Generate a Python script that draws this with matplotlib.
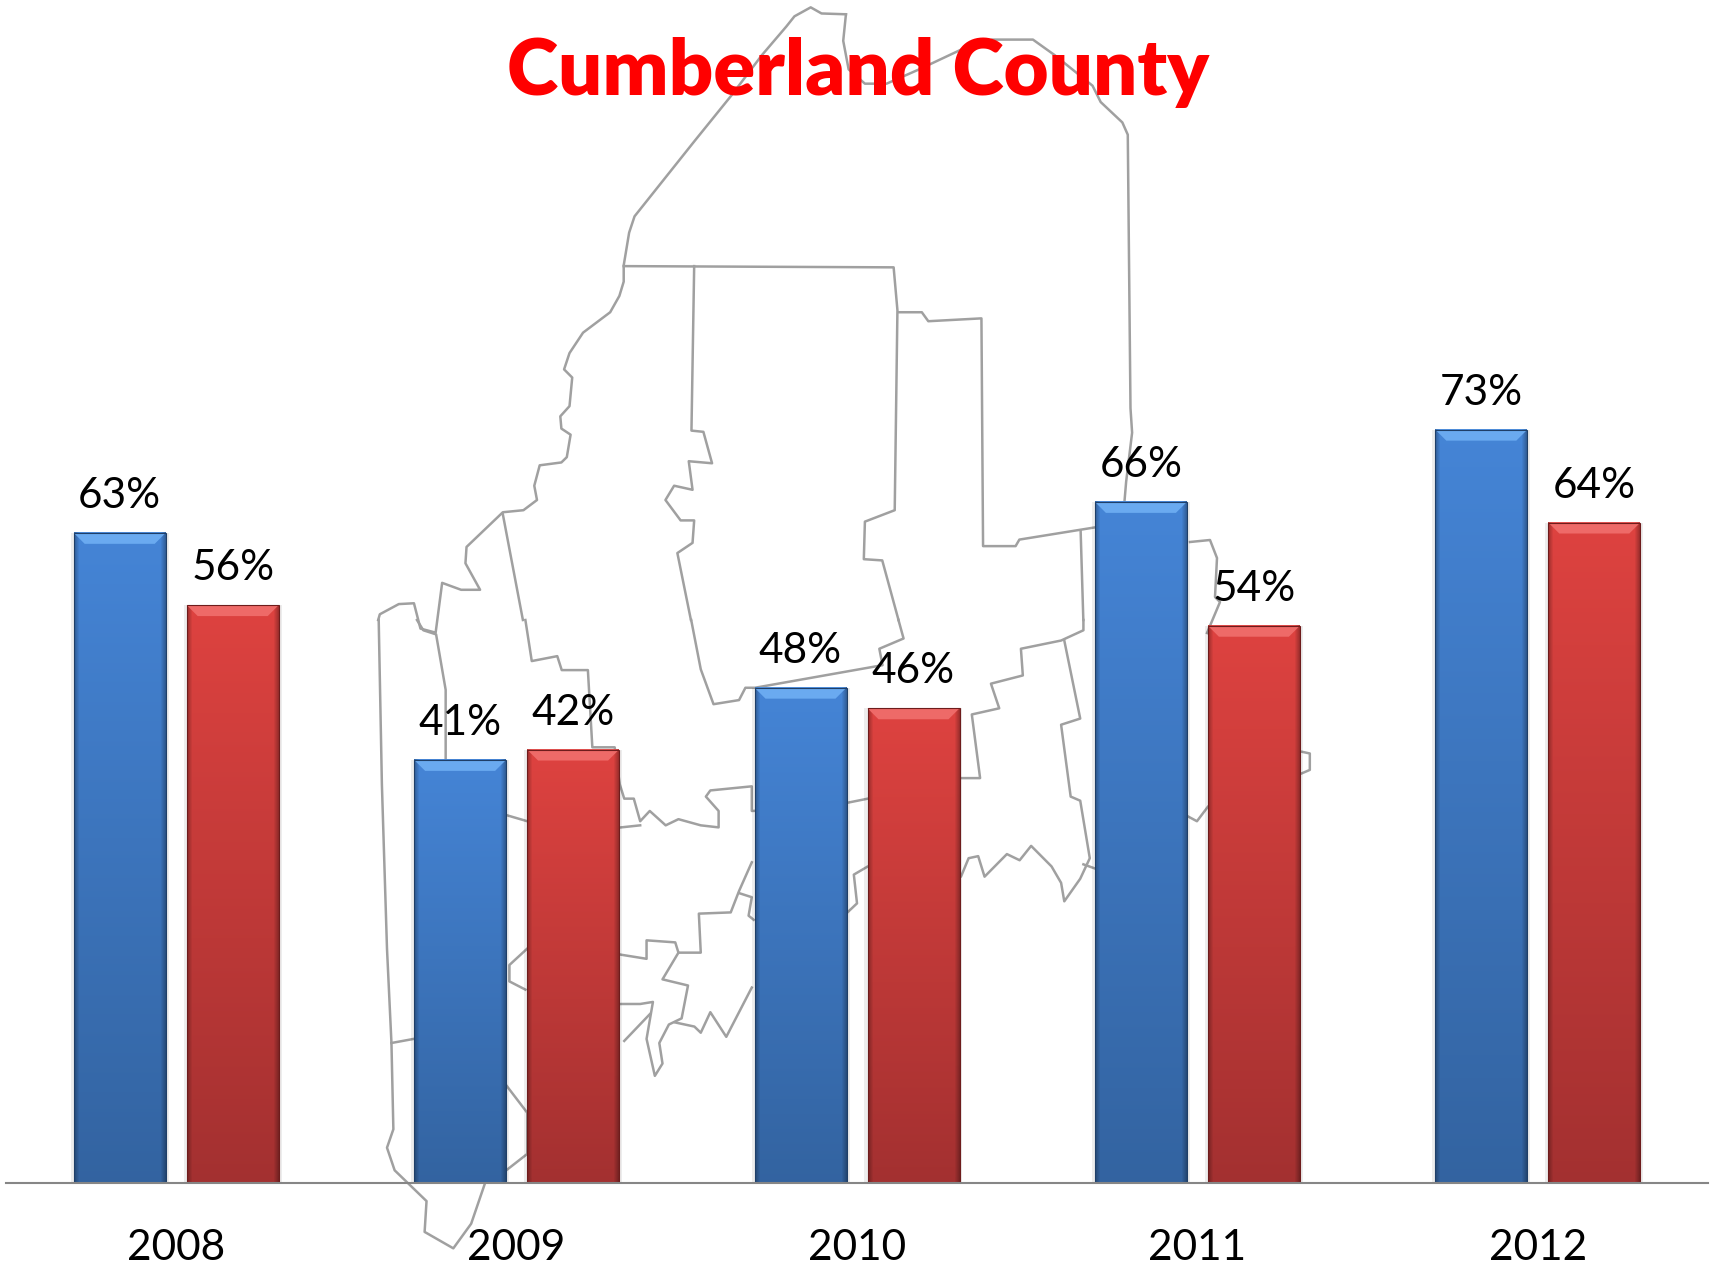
import numpy as np
import matplotlib
matplotlib.use('Agg')
import matplotlib.pyplot as plt
from matplotlib.patches import Polygon

plt.rcParams['font.family'] = ['Lato', 'DejaVu Sans']

years = ['2008', '2009', '2010', '2011', '2012']
blue_values = [63, 41, 48, 66, 73]
red_values = [56, 42, 46, 54, 64]

# map outline, (x, y) in zoomed crop coordinates
map_upper = [
    [(915, 35), (870, 33), (850, 18), (820, 40), (805, 65), (760, 135), (703, 235), (636, 345), (579, 440),
     (525, 530), (515, 570), (505, 650), (505, 690), (497, 725), (480, 765), (430, 815), (405, 865), (395, 905),
     (410, 925), (405, 995), (388, 1020), (390, 1050), (407, 1065), (400, 1120), (390, 1133), (350, 1140),
     (340, 1190), (345, 1225), (320, 1250), (282, 1255), (215, 1340), (213, 1380), (240, 1445), (205, 1445),
     (170, 1428), (158, 1550), (130, 1540), (118, 1478), (90, 1480), (55, 1505), (52, 1519)],
    [(915, 35), (910, 100), (920, 170), (950, 205), (990, 205), (1050, 170), (1130, 120), (1185, 97), (1260, 97),
     (1300, 135), (1370, 210), (1385, 250), (1425, 300), (1435, 330), (1437, 600), (1440, 1000), (1443, 1060),
     (1432, 1180), (1425, 1290)],
    [(505, 652), (1003, 655), (1010, 760), (1005, 1250), (950, 1278), (948, 1370), (982, 1373), (1012, 1519)],
    [(635, 652), (630, 1055), (652, 1058), (668, 1135), (625, 1130), (632, 1200), (598, 1190), (582, 1225),
     (610, 1275), (635, 1275), (632, 1330), (604, 1355), (629, 1519)],
    [(1012, 765), (1055, 765), (1067, 787), (1165, 780), (1168, 1338), (1228, 1338), (1235, 1322), (1375, 1292),
     (1425, 1285)],
    [(1348, 1300), (1353, 1519)],
    [(282, 1260), (319, 1519)],
]
map_lower = [
    [(45, 0), (50, 400), (58, 800), (65, 1030), (68, 1240), (58, 1285), (70, 1340), (120, 1415), (117, 1490),
     (162, 1530), (190, 1470), (212, 1370), (245, 1340), (278, 1300), (278, 1200), (245, 1133)],
    [(65, 1030), (100, 1020), (130, 1015)],
    [(105, 0), (115, 25), (135, 35), (150, 170), (150, 340), (170, 440), (245, 475), (278, 490), (330, 500)],
    [(275, 0), (285, 100), (325, 88), (332, 122), (373, 122), (380, 310), (415, 310), (423, 400), (430, 435),
     (445, 435), (455, 490), (470, 465), (495, 500), (515, 485), (550, 500), (578, 505), (578, 465), (558, 430),
     (565, 415), (630, 405), (630, 465), (700, 460), (780, 445), (812, 435), (900, 400), (958, 385), (988, 385),
     (975, 230), (1018, 215), (1005, 155), (1055, 135), (1052, 70), (1115, 50), (1150, 25), (1150, 0)],
    [(425, 505), (455, 500)],
    [(1120, 50), (1145, 240), (1115, 255), (1130, 430), (1145, 440), (1160, 580), (1145, 630), (1120, 685),
     (1115, 640), (1100, 600), (1068, 550), (1050, 585), (1030, 570), (995, 625), (985, 575), (970, 580),
     (958, 625), (890, 610), (812, 600), (790, 620), (795, 690), (780, 712)],
    [(1150, 595), (1168, 605)],
    [(630, 590), (610, 660), (597, 712), (547, 715), (550, 810), (515, 810), (510, 785), (465, 780), (465, 825),
     (425, 815), (380, 800)],
    [(610, 665), (630, 675), (625, 720), (633, 730)],
    [(515, 810), (490, 875), (530, 890), (520, 970), (500, 985), (485, 1030), (490, 1080), (478, 1110),
     (465, 1020), (475, 930), (455, 935), (425, 935), (390, 940)],
    [(470, 960), (430, 1025)],
    [(510, 980), (540, 990), (550, 1005), (565, 955), (590, 1015), (630, 895)],
    [(278, 800), (250, 840), (250, 880), (275, 900)],
    [(1490, 375), (1505, 365), (1505, 325), (1490, 320)],
    [(1310, 475), (1328, 490), (1345, 455)],
    [(535, 0), (550, 120), (570, 205), (610, 195), (620, 165), (635, 165), (835, 110), (830, 70), (868, 45),
     (860, 0)],
]
# this last one was read straight in figure pixels
map_right = [(1190, 542), (1210, 540), (1217, 558), (1215, 597), (1220, 602), (1207, 633)]

W, H = 1713, 1264
fig = plt.figure(figsize=(W / 100, H / 100), dpi=100, facecolor='white')

# background map, in figure pixels
bg = fig.add_axes([0, 0, 1, 1], zorder=0)
bg.set_xlim(0, W)
bg.set_ylim(H, 0)
bg.axis('off')
map_color = '#a0a0a0'
map_lw = 1.8
for line in map_upper:
    pts = np.array(line, dtype=float)
    bg.plot(350 + pts[:, 0] / 1.845, pts[:, 1] / 2.45, color=map_color, lw=map_lw)
for line in map_lower:
    pts = np.array(line, dtype=float)
    bg.plot(350 + pts[:, 0] / 1.568, 620 + pts[:, 1] / 2.435, color=map_color, lw=map_lw)
pts = np.array(map_right, dtype=float)
bg.plot(pts[:, 0], pts[:, 1], color=map_color, lw=map_lw)

# chart axes: baseline at y=1183px, 10.32px per percent
ax = fig.add_axes([6 / W, 1 - 1183 / H, (1708 - 6) / W, 1183 / H], zorder=1)
ax.patch.set_visible(False)
ax.set_xlim(-0.5, 4.5)
ax.set_ylim(0, 1183 / 10.32)

px_x = 5 / (1708 - 6)
px_y = 1 / 10.32
bar_w = 92 * px_x
offset = 56.5 * px_x


def bar_image(top, bottom):
    # vertical gradient with darker side edges
    ys = np.linspace(0, 1, 200)[:, None, None]
    grad = np.array(top)[None, None, :] * (1 - ys) + np.array(bottom)[None, None, :] * ys
    xs = np.linspace(0, 92, 92)
    edge = np.minimum(xs, 92 - xs)
    shade = 0.72 + 0.28 * np.clip(edge / 5, 0, 1)
    return grad * shade[None, :, None]


def draw_bars(xpos, values, top, bottom, light, edge):
    img = bar_image(top, bottom)
    bars = ax.bar(xpos, values, width=bar_w, facecolor='none', edgecolor=edge, linewidth=0.8, zorder=3)
    # faint shadow around the bars
    ax.bar(xpos, values, width=bar_w + 6 * px_x, color='black', alpha=0.07, linewidth=0, zorder=1)
    for rect in bars:
        x0 = rect.get_x()
        x1 = x0 + rect.get_width()
        h = rect.get_height()
        ax.imshow(img, extent=(x0, x1, 0, h), aspect='auto', interpolation='bilinear', zorder=2)
        bevel = Polygon([(x0, h), (x1, h), (x1 - 11 * px_x, h - 11 * px_y), (x0 + 11 * px_x, h - 11 * px_y)],
                        closed=True, facecolor=light, edgecolor='none', zorder=2.5)
        ax.add_patch(bevel)
        ax.annotate('%d%%' % h, (rect.get_x() + rect.get_width() / 2, h), xytext=(0, 26.5),
                    textcoords='offset points', ha='center', va='center', fontsize=30.5, color='black', zorder=4)


x = np.arange(len(years))
draw_bars(x - offset, blue_values, (0.27, 0.52, 0.84), (0.20, 0.39, 0.63), '#6aaaf0', '#1f3f68')
draw_bars(x + offset, red_values, (0.87, 0.26, 0.25), (0.64, 0.19, 0.19), '#ee6a68', '#6e1c1c')

ax.set_xlim(-0.5, 4.5)
ax.set_ylim(0, 1183 / 10.32)
ax.set_xticks(x)
ax.set_xticklabels(years, fontsize=30.5, color='black')
ax.tick_params(axis='x', length=0, pad=33)
ax.set_yticks([])
for side in ['top', 'left', 'right']:
    ax.spines[side].set_visible(False)
ax.spines['bottom'].set_color('#868686')
ax.spines['bottom'].set_linewidth(1.5)
ax.spines['bottom'].set_zorder(5)

fig.text(858 / W, 1 - 73 / H, 'Cumberland County', color='#ff0000', fontsize=56, fontweight='heavy',
         ha='center', va='center', zorder=5)

fig.savefig('out.png', dpi=100)
